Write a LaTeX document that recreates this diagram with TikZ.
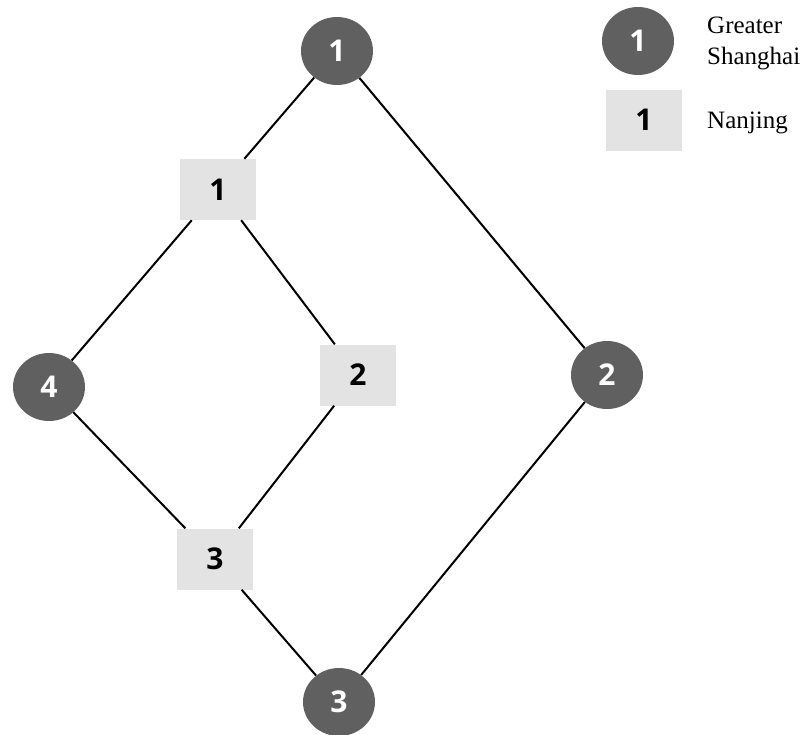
\documentclass[tikz,border=0pt]{standalone}
\usepackage{fontspec}
\setmainfont{Liberation Serif}
\newfontfamily\numfont{Open Sans}
\usetikzlibrary{shapes.geometric}
\definecolor{circfill}{HTML}{606060}
\definecolor{sqfill}{HTML}{E3E3E3}
\tikzset{
  circnode/.style={ellipse, fill=circfill, draw=none, minimum width=72pt, minimum height=68pt, inner sep=0pt,
    text=white, font=\numfont\bfseries\fontsize{30}{36}\selectfont},
  sqnode/.style={rectangle, fill=sqfill, draw=none, minimum width=76pt, minimum height=61pt, inner sep=0pt,
    text=black, font=\numfont\bfseries\fontsize{30}{36}\selectfont},
  link/.style={draw=black, line width=2pt},
  legtext/.style={anchor=base west, inner sep=0pt, font=\fontsize{25}{31}\selectfont}
}
\begin{document}
\begin{tikzpicture}[x=1pt, y=-1pt]
\useasboundingbox (0,0) rectangle (805,734);
% nodes
\node[circnode] (c1) at (337,51) {1};
\node[circnode] (c2) at (607,375) {2};
\node[circnode] (c3) at (339,702) {3};
\node[circnode] (c4) at (49,387) {4};
\node[sqnode] (s1) at (218,189.5) {1};
\node[sqnode] (s2) at (358,375) {2};
\node[sqnode] (s3) at (215,559) {3};
% connectors
\draw[link] (c1) -- (s1);
\draw[link] (c1) -- (c2);
\draw[link] (s1) -- (c4);
\draw[link] (s1) -- (s2);
\draw[link] (c4) -- (s3);
\draw[link] (s2) -- (s3);
\draw[link] (s3) -- (c3);
\draw[link] (c2) -- (c3);
% legend
\node[circnode] (lc) at (638,41) {1};
\node[sqnode] (ls) at (644,120) {1};
\node[legtext] (lt1) at (707,33) {Greater};
\node[legtext] (lt2) at (707,64) {Shanghai};
\node[legtext] (lt3) at (707,128) {Nanjing};
\end{tikzpicture}
\end{document}
